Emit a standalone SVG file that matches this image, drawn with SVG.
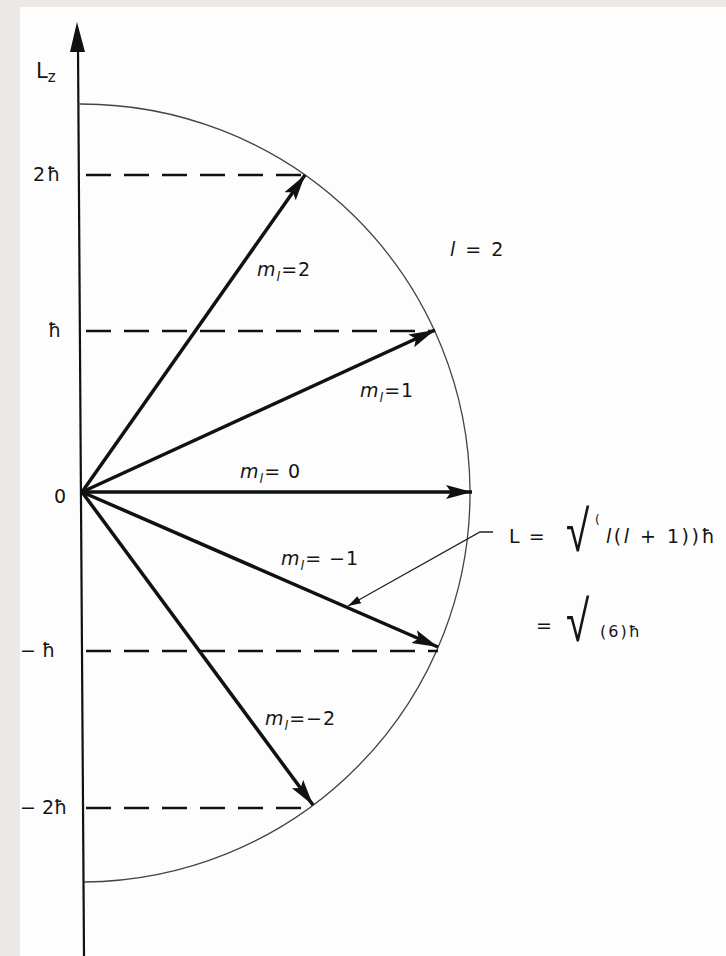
<svg xmlns="http://www.w3.org/2000/svg" width="726" height="956" viewBox="0 0 726 956">
  <style>
    .lbl { font-family: "DejaVu Sans", "Liberation Sans", sans-serif; font-size: 19px; fill: #151515; }
    .it { font-style: italic; }
    .sub { font-size: 13px; font-style: italic; }
    .rad { font-family: "DejaVu Sans", "Liberation Sans", sans-serif; font-weight: 200; font-size: 50px; fill: #151515; }
    .vec { stroke: #111; stroke-width: 3.5; fill: none; marker-end: url(#head); }
    .dash { stroke: #111; stroke-width: 2.5; stroke-dasharray: 25 13; fill: none; }
  </style>
  <defs>
    <marker id="head" markerUnits="userSpaceOnUse" markerWidth="30" markerHeight="16" refX="26" refY="7" orient="auto">
      <path d="M0,0 L26,7 L0,14 L5,7 z" fill="#111"/>
    </marker>
    <marker id="small" markerUnits="userSpaceOnUse" markerWidth="16" markerHeight="10" refX="13" refY="4" orient="auto">
      <path d="M0,0 L13,4 L0,8 z" fill="#111"/>
    </marker>
  </defs>

  <!-- page -->
  <rect x="0" y="0" width="726" height="956" fill="#ebe8e5"/>
  <rect x="20" y="7" width="706" height="949" fill="#fdfdfd"/>

  <!-- axis -->
  <g id="axis">
    <line x1="84" y1="956" x2="78" y2="48" stroke="#111" stroke-width="2.2"/>
    <polygon points="77,22 70,52 85,52" fill="#111"/>
    <text class="lbl" x="36" y="78" style="font-size:21px">L<tspan class="sub" dy="4" style="font-style:normal;font-size:15px">z</tspan></text>
  </g>

  <!-- circle -->
  <g id="circle">
    <path d="M78,104 A389,389 0 0 1 84,882" fill="none" stroke="#444" stroke-width="1.3"/>
  </g>

  <!-- level lines -->
  <g id="levels">
    <path class="dash" d="M86,175 H305"/>
    <path class="dash" d="M86,331 H435"/>
    <path class="dash" d="M86,651 H438"/>
    <path class="dash" d="M86,808 H313"/>
  </g>

  <!-- tick labels -->
  <g id="ticks">
    <text class="lbl" x="33" y="181" style="letter-spacing:2px">2ħ</text>
    <text class="lbl" x="48" y="337">ħ</text>
    <text class="lbl" x="54" y="503">0</text>
    <text class="lbl" x="20" y="657">− ħ</text>
    <text class="lbl" x="20" y="814">− 2ħ</text>
  </g>

  <!-- connectors: angular momentum vectors -->
  <g id="connectors">
    <line class="vec" x1="82" y1="492" x2="305" y2="175"/>
    <line class="vec" x1="82" y1="492" x2="435" y2="330"/>
    <line class="vec" x1="82" y1="492" x2="472" y2="492"/>
    <line class="vec" x1="82" y1="492" x2="438" y2="647"/>
    <line class="vec" x1="82" y1="492" x2="313" y2="805"/>
    <path d="M493,532 H480 L348,606" fill="none" stroke="#222" stroke-width="1.3" marker-end="url(#small)"/>
  </g>

  <!-- vector labels -->
  <g id="label-m2"><text class="lbl" x="257" y="276" style="letter-spacing:1px"><tspan class="it">m</tspan><tspan class="sub" dy="5">l</tspan><tspan dy="-5">=2</tspan></text></g>
  <g id="label-m1"><text class="lbl" x="360" y="397" style="letter-spacing:1px"><tspan class="it">m</tspan><tspan class="sub" dy="5">l</tspan><tspan dy="-5">=1</tspan></text></g>
  <g id="label-m0"><text class="lbl" x="240" y="478" style="letter-spacing:1px"><tspan class="it">m</tspan><tspan class="sub" dy="5">l</tspan><tspan dy="-5">= 0</tspan></text></g>
  <g id="label-mm1"><text class="lbl" x="281" y="565" style="letter-spacing:1px"><tspan class="it">m</tspan><tspan class="sub" dy="5">l</tspan><tspan dy="-5">= −1</tspan></text></g>
  <g id="label-mm2"><text class="lbl" x="265" y="725" style="letter-spacing:1px"><tspan class="it">m</tspan><tspan class="sub" dy="5">l</tspan><tspan dy="-5">=−2</tspan></text></g>

  <g id="label-l"><text class="lbl" x="450" y="256" style="letter-spacing:2px"><tspan class="it">l</tspan>  =  2</text></g>

  <!-- formula -->
  <g id="formula">
    <text class="lbl" x="509" y="543" style="letter-spacing:1.5px">L  =</text>
    <text class="rad" transform="translate(566,551) scale(0.85,1.15)">√</text>
    <text class="lbl" x="595" y="524" style="font-size:12px">(</text>
    <text class="lbl" x="606" y="543" style="letter-spacing:2.5px"> <tspan class="it">l</tspan>(<tspan class="it">l</tspan>  +  1))ħ</text>
    <text class="lbl" x="536" y="632">=</text>
    <text class="rad" transform="translate(566,641) scale(0.85,1.15)">√</text>
    <text class="lbl" x="600" y="637" style="font-size:16px;letter-spacing:2px">(6)ħ</text>
  </g>
</svg>
